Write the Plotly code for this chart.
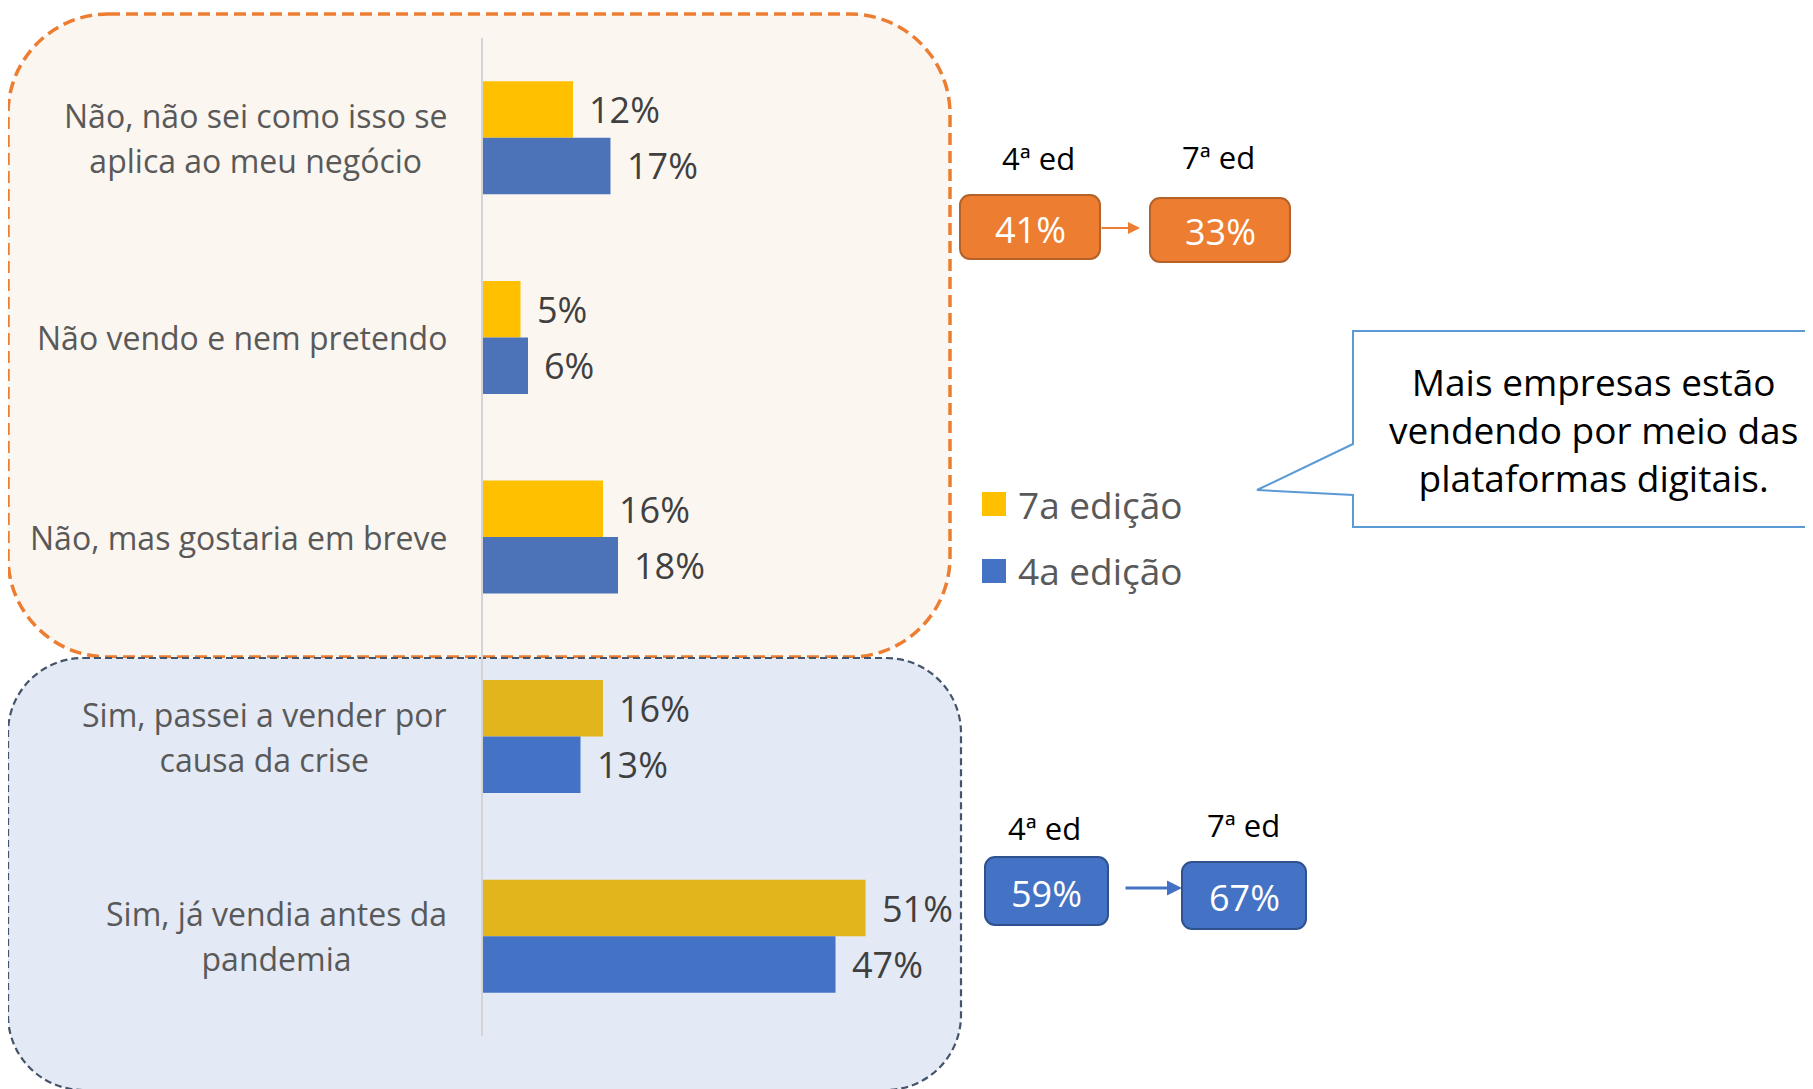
import plotly.graph_objects as go

# ---------------- data ----------------
categories = [
    "Não, não sei como isso se<br>aplica ao meu negócio",
    "Não vendo e nem pretendo",
    "Não, mas gostaria em breve",
    "Sim, passei a vender por<br>causa da crise",
    "Sim, já vendia antes da<br>pandemia",
]
cat_ids = ["c1", "c2", "c3", "c4", "c5"]
ed7_values = [12, 5, 16, 16, 51]
ed4_values = [17, 6, 18, 13, 47]
series_names = ["7a edição", "4a edição"]
ed7_colors = ["#FFC000", "#FFC000", "#FFC000", "#E1B51B", "#E1B51B"]
ed4_colors = ["#4C72B8", "#4C72B8", "#4C72B8", "#4472C4", "#4472C4"]

nao_summary = ["41%", "33%"]
sim_summary = ["59%", "67%"]
edition_labels = ["4ª ed", "7ª ed"]
callout_text = "Mais empresas estão<br>vendendo por meio das<br>plataformas digitais."

# ---------------- geometry ----------------
# page body has an 8px margin; figure is sized/offset to compensate
OFF = 8
W, H = 1813 - OFF, 1089 - OFF
PLOT_LEFT, PLOT_TOP, PLOT_BOTTOM = 483, 38, 1036   # page pixel coords
PW = 450
L = PLOT_LEFT - OFF
T = PLOT_TOP - OFF
B = H - (PLOT_BOTTOM - OFF)
R = W - L - PW
PH = H - T - B
FONT = "Open Sans"


def px(X):
    return (X - PLOT_LEFT) / PW


def py(Y):
    return (PLOT_BOTTOM - Y) / PH


def rrect(x0, y0, x1, y1, r):
    k = 0.5523 * r
    pts = [
        ("M", [(x0 + r, y0)]),
        ("L", [(x1 - r, y0)]),
        ("C", [(x1 - r + k, y0), (x1, y0 + r - k), (x1, y0 + r)]),
        ("L", [(x1, y1 - r)]),
        ("C", [(x1, y1 - r + k), (x1 - r + k, y1), (x1 - r, y1)]),
        ("L", [(x0 + r, y1)]),
        ("C", [(x0 + r - k, y1), (x0, y1 - r + k), (x0, y1 - r)]),
        ("L", [(x0, y0 + r)]),
        ("C", [(x0, y0 + r - k), (x0 + r - k, y0), (x0 + r, y0)]),
    ]
    s = ""
    for cmd, ps in pts:
        s += cmd + " " + " ".join(f"{px(a):.5f},{py(b):.5f}" for a, b in ps) + " "
    return s + "Z"


def poly(points):
    s = "M " + " L ".join(f"{px(a):.5f},{py(b):.5f}" for a, b in points)
    return s + " Z"


fig = go.Figure()
fig.add_trace(go.Bar(
    y=cat_ids, x=ed7_values, orientation="h", name=series_names[0],
    marker=dict(color=ed7_colors, line=dict(width=0)), showlegend=False,
))
fig.add_trace(go.Bar(
    y=cat_ids, x=ed4_values, orientation="h", name=series_names[1],
    marker=dict(color=ed4_colors, line=dict(width=0)), showlegend=False,
))

shapes = []
# background rounded dashed boxes
shapes.append(dict(type="path", xref="paper", yref="paper", layer="below",
                   path=rrect(8, 14, 950, 657, 100),
                   fillcolor="#FBF6F0",
                   line=dict(color="#ED7D31", width=3.5, dash="12px,6px")))
shapes.append(dict(type="path", xref="paper", yref="paper", layer="below",
                   path=rrect(8, 658, 961, 1090, 75),
                   fillcolor="#E3E9F5",
                   line=dict(color="#44546A", width=2.2, dash="7px,4px")))

# legend squares
shapes.append(dict(type="rect", xref="paper", yref="paper",
                   x0=px(982), x1=px(1006), y0=py(492), y1=py(516),
                   fillcolor="#FFC000", line=dict(width=0)))
shapes.append(dict(type="rect", xref="paper", yref="paper",
                   x0=px(982), x1=px(1006), y0=py(559), y1=py(583),
                   fillcolor="#4472C4", line=dict(width=0)))

# summary boxes
shapes.append(dict(type="path", xref="paper", yref="paper",
                   path=rrect(960, 195, 1100, 259, 10),
                   fillcolor="#ED7D31", line=dict(color="#B4622A", width=2)))
shapes.append(dict(type="path", xref="paper", yref="paper",
                   path=rrect(1150, 198, 1290, 262, 10),
                   fillcolor="#ED7D31", line=dict(color="#B4622A", width=2)))
shapes.append(dict(type="path", xref="paper", yref="paper",
                   path=rrect(985, 857, 1108, 925, 10),
                   fillcolor="#4472C4", line=dict(color="#2F528F", width=2)))
shapes.append(dict(type="path", xref="paper", yref="paper",
                   path=rrect(1182, 862, 1306, 929, 10),
                   fillcolor="#4472C4", line=dict(color="#2F528F", width=2)))

# callout
shapes.append(dict(type="path", xref="paper", yref="paper",
                   path=poly([(1353, 331), (1825, 331), (1825, 527), (1353, 527),
                              (1353, 495), (1257, 490), (1353, 444)]),
                   fillcolor="#FFFFFF", line=dict(color="#5B9BD5", width=2)))

annotations = []
# category labels: base font sets the line spacing (~45px), span sets glyph size
for cid, lab in zip(cat_ids, categories):
    txt = "<br>".join(f'<span style="font-size:32px">{ln}</span>'
                      for ln in lab.split("<br>"))
    annotations.append(dict(
        x=px(449), xref="paper", y=cid, yref="y", text=txt, showarrow=False,
        xanchor="right", yanchor="middle", align="center",
        font=dict(family=FONT, size=34.6, color="#595959")))

# data labels
for vals, shift in ((ed7_values, 28), (ed4_values, -28)):
    for cid, v in zip(cat_ids, vals):
        annotations.append(dict(
            x=v, xref="x", y=cid, yref="y", text=f"{v}%", showarrow=False,
            xanchor="left", yanchor="middle", xshift=14, yshift=shift,
            font=dict(family=FONT, size=36, color="#404040")))

# legend text
for name, yy in zip(series_names, (504, 571)):
    annotations.append(dict(
        x=px(1016), y=py(yy), xref="paper", yref="paper", text=name,
        showarrow=False, xanchor="left", yanchor="middle",
        font=dict(family=FONT, size=37, color="#595959")))

# summary texts
for txt, cx, cy in zip(nao_summary, (1030, 1220), (229, 232)):
    annotations.append(dict(x=px(cx), y=py(cy), xref="paper", yref="paper",
                            text=txt, showarrow=False, xanchor="center", yanchor="middle",
                            font=dict(family=FONT, size=36, color="#FFFFFF")))
for txt, cx, cy in zip(sim_summary, (1046, 1244), (893, 897)):
    annotations.append(dict(x=px(cx), y=py(cy), xref="paper", yref="paper",
                            text=txt, showarrow=False, xanchor="center", yanchor="middle",
                            font=dict(family=FONT, size=36, color="#FFFFFF")))
for txt, cx, cy in zip(edition_labels + edition_labels,
                       (1038, 1218, 1044, 1243), (158, 157, 828, 825)):
    annotations.append(dict(x=px(cx), y=py(cy), xref="paper", yref="paper",
                            text=txt, showarrow=False, xanchor="center", yanchor="middle",
                            font=dict(family=FONT, size=31, color="#000000")))

# arrows
annotations.append(dict(x=px(1140), y=py(228), xref="paper", yref="paper", text="",
                        showarrow=True, ax=-40, ay=0, arrowhead=2, arrowsize=1.2,
                        arrowwidth=2, arrowcolor="#ED7D31", standoff=0))
annotations.append(dict(x=px(1182), y=py(888), xref="paper", yref="paper", text="",
                        showarrow=True, ax=-58, ay=0, arrowhead=2, arrowsize=1,
                        arrowwidth=3, arrowcolor="#4472C4", standoff=0))

# callout text
annotations.append(dict(x=px(1593), y=py(430), xref="paper", yref="paper",
                        text=callout_text, showarrow=False, xanchor="center",
                        yanchor="middle", align="center",
                        font=dict(family=FONT, size=37, color="#000000")))

fig.update_layout(
    width=W, height=H,
    margin=dict(l=L, r=R, t=T, b=B, pad=0),
    paper_bgcolor="#FFFFFF", plot_bgcolor="rgba(0,0,0,0)",
    barmode="group", bargap=0.434, bargroupgap=0,
    showlegend=False,
    shapes=shapes, annotations=annotations,
    font=dict(family=FONT),
)
fig.update_xaxes(range=[0, 60], visible=False, showgrid=False, zeroline=False)
fig.update_yaxes(categoryorder="array", categoryarray=cat_ids, autorange="reversed",
                 showticklabels=False, showgrid=False, zeroline=False,
                 showline=True, linecolor="#D4D4D4", linewidth=2, ticks="")

fig.write_html("out.html")
